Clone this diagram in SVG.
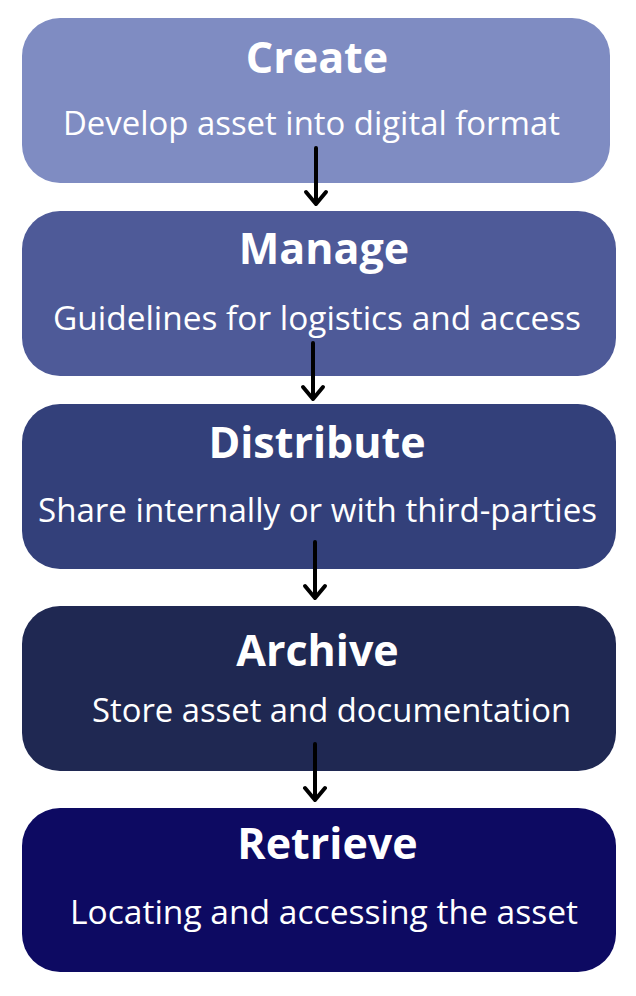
<svg xmlns="http://www.w3.org/2000/svg" width="636" height="996" viewBox="0 0 636 996">
<defs>
<style>
.t{font-family:"Open Sans","Noto Sans","DejaVu Sans",sans-serif;font-weight:700;font-size:43px;fill:#fff;text-anchor:middle}
.s{font-family:"Open Sans","Noto Sans","DejaVu Sans",sans-serif;font-size:32px;fill:#fff;text-anchor:middle}
.c{stroke:#000;stroke-width:4;fill:none;stroke-linecap:round;stroke-linejoin:round}
</style>
</defs>
<rect width="636" height="996" fill="#fff"/>
<g id="create"><rect x="22" y="18" width="588" height="165" rx="38" fill="#7f8cc2"/><text class="t" x="317" y="73">Create</text><text class="s" x="311.5" y="135" textLength="497" lengthAdjust="spacingAndGlyphs">Develop asset into digital format</text></g>
<g id="manage"><rect x="22" y="211" width="594" height="165" rx="38" fill="#4e5a98"/><text class="t" x="324" y="264">Manage</text><text class="s" x="317" y="330" textLength="528" lengthAdjust="spacingAndGlyphs">Guidelines for logistics and access</text></g>
<g id="distribute"><rect x="22" y="404" width="594" height="165" rx="38" fill="#33407a"/><text class="t" x="317" y="458">Distribute</text><text class="s" x="317.5" y="522" textLength="559" lengthAdjust="spacingAndGlyphs">Share internally or with third-parties</text></g>
<g id="archive"><rect x="22" y="606" width="594" height="165" rx="38" fill="#1f2852"/><text class="t" x="317.5" y="666">Archive</text><text class="s" x="331.5" y="722" textLength="479" lengthAdjust="spacingAndGlyphs">Store asset and documentation</text></g>
<g id="retrieve"><rect x="22" y="808" width="594" height="164" rx="38" fill="#0d0a62"/><text class="t" x="327.5" y="859">Retrieve</text><text class="s" x="324" y="924" textLength="508" lengthAdjust="spacingAndGlyphs">Locating and accessing the asset</text></g>
<g id="connectors">
<path class="c" d="M316 148V204M306 192L316 204L326 192"/>
<path class="c" d="M313 343V399M303 387L313 399L323 387"/>
<path class="c" d="M315 542V598M305 586L315 598L325 586"/>
<path class="c" d="M315 744V800M305 788L315 800L325 788"/>
</g>
</svg>
